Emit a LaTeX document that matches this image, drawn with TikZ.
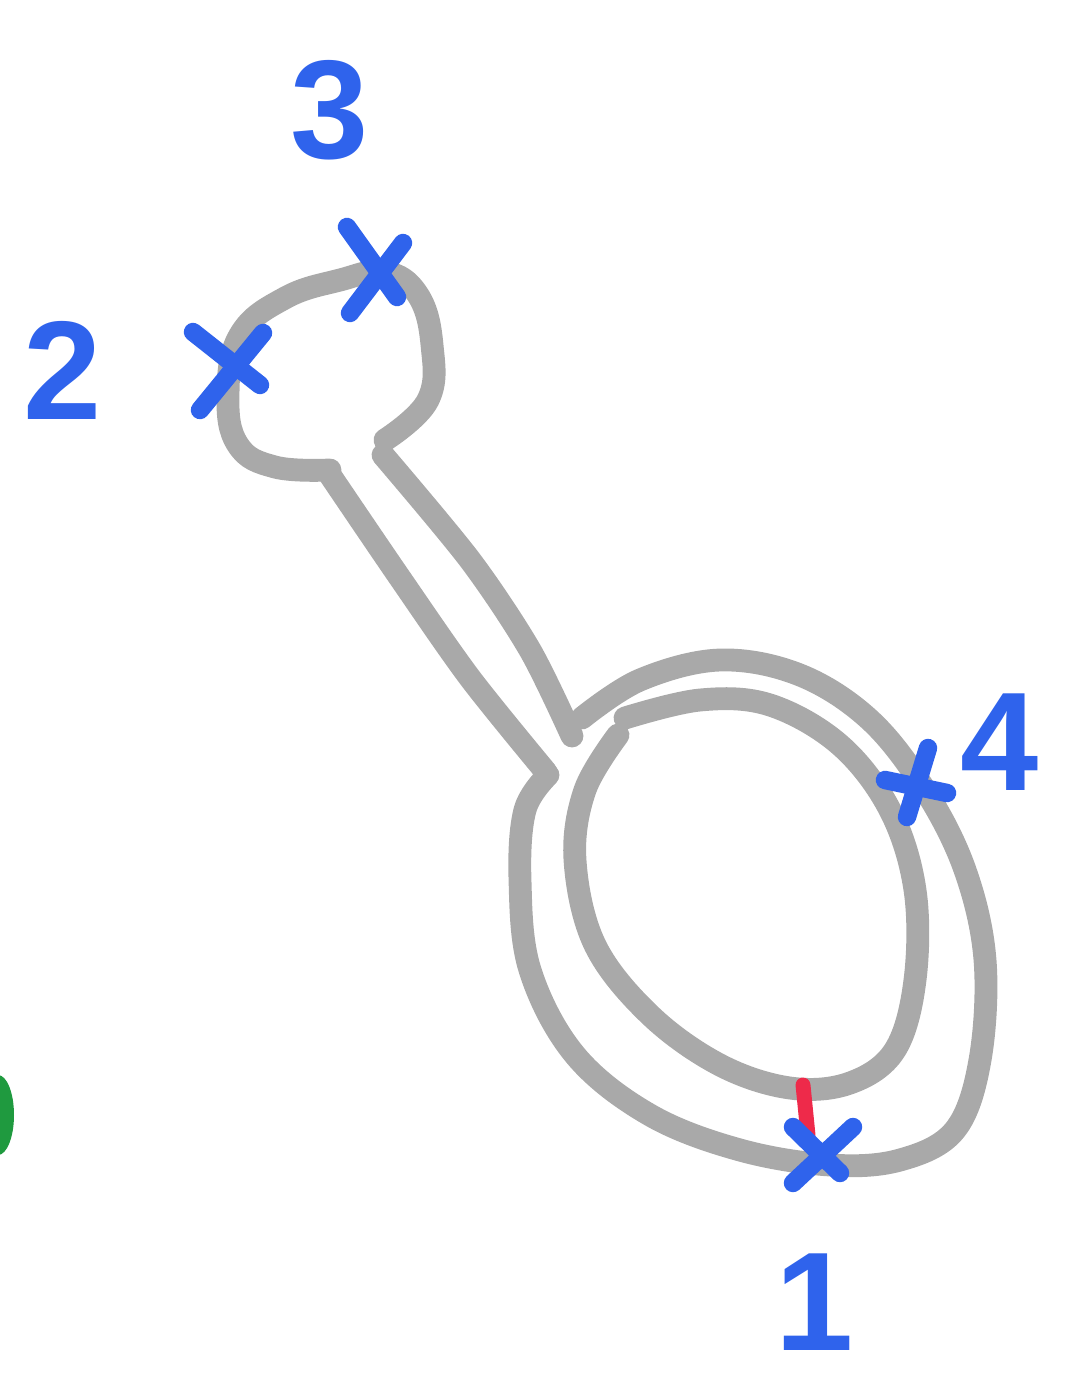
\documentclass[tikz,border=0pt]{standalone}
\usepackage{fontspec}
\setmainfont{Liberation Sans}
\usepackage{xcolor}
\usepackage{tikz}
\usetikzlibrary{positioning}
\definecolor{loopgray}{HTML}{A9A9A9}
\definecolor{markblue}{HTML}{2F63EC}
\definecolor{cutred}{HTML}{EE2A4A}
\definecolor{blobgreen}{HTML}{1F9A3F}
\tikzset{
  loopline/.style={draw=loopgray,line width=13pt,line cap=round,line join=round},
  crossline/.style={draw=markblue,line width=10.5pt,line cap=round},
  cutline/.style={draw=cutred,line width=8.5pt,line cap=round},
  marklabel/.style={text=markblue,font=\fontsize{80}{80}\selectfont\bfseries,inner sep=0pt}
}

\begin{document}
\begin{tikzpicture}[x=0.02cm,y=-0.02cm]
  \useasboundingbox (0,0) rectangle (1067,1379);

  % small loop and the stem
  \draw[loopline] plot[smooth,tension=0.7] coordinates {(330,470) (275,467) (238,445) (228,395) (240,335) (285,298) (340,280) (385,272) (418,295) (432,345) (428,400) (385,440)};
  \draw[loopline] plot[smooth] coordinates {(330,475) (400,578) (470,678) (546,772)};
  \draw[loopline] plot[smooth] coordinates {(383,455) (470,560) (530,650) (572,736)};

  % big loop, outer and inner
  \draw[loopline] plot[smooth,tension=0.6] coordinates {(582,718) (640,680) (720,660) (800,675) (870,720) (925,790) (965,870) (985,960) (980,1060) (955,1130) (900,1160) (830,1165) (740,1150) (650,1115) (575,1055) (530,970) (520,880) (525,810) (548,775)};
  \draw[loopline] plot[smooth,tension=0.6] coordinates {(625,718) (700,700) (770,705) (840,745) (890,810) (915,890) (915,980) (895,1050) (850,1083) (790,1088) (720,1065) (650,1015) (595,945) (575,860) (585,790) (618,735)};

  \draw[cutline] (803,1085) -- (808,1135);

  % crosses
  \draw[crossline] (200,410) -- (263,333);
  \draw[crossline] (193,332) -- (260,385);
  \draw[crossline] (350,313) -- (403,243);
  \draw[crossline] (347,227) -- (397,297);
  \draw[crossline] (928,748) -- (907,817);
  \draw[crossline] (885,780) -- (947,793);
  \draw[crossline] (793,1127) -- (840,1173);
  \draw[crossline] (853,1127) -- (793,1183);

  \node[marklabel] (labthree) at (330,110) {3};
  \node[marklabel] (labtwo) at (63,370) {2};
  \node[marklabel] (labfour) at (1000,742) {4};
  \node[marklabel] (labone) at (815,1302) {1};

  \fill[blobgreen] (-2,1115) ellipse [x radius=16,y radius=40];
\end{tikzpicture}
\end{document}
